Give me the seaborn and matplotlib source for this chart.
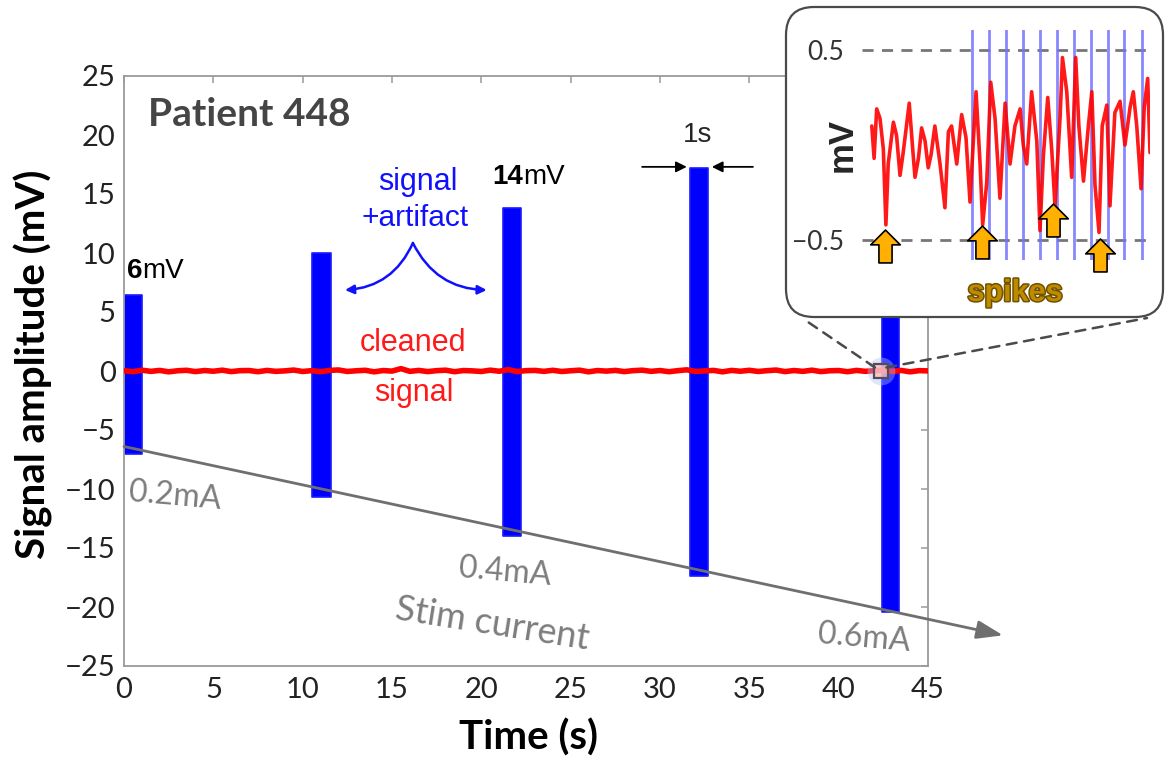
import numpy as np
import pandas as pd
import matplotlib
matplotlib.use("Agg")
import matplotlib.pyplot as plt
import seaborn as sns
from matplotlib.patches import FancyBboxPatch, ConnectionPatch
from matplotlib.path import Path
import matplotlib.patheffects as pe

# ---------------- data ----------------
burst_start = [0.0, 10.5, 21.2, 31.7, 42.4]
burst_end = [1.0, 11.6, 22.2, 32.7, 43.4]
burst_high = [6.4, 10.0, 13.8, 17.2, 20.6]
burst_low = [-7.0, -10.7, -14.0, -17.4, -20.4]

clean_step = 0.5
clean_signal = [0.03, -0.06, 0.07, -0.03, 0.05, -0.07, 0.02, 0.06, -0.05, 0.04,
                -0.02, 0.07, -0.05, 0.03, 0.04, -0.06, 0.05, -0.03, 0.01, 0.08,
                -0.04, 0.03, -0.06, 0.05, 0.09, -0.04, 0.02, 0.06, -0.07, 0.04,
                -0.01, 0.20, -0.03, 0.05, -0.05, 0.03, 0.07, -0.06, 0.04, 0.01,
                -0.04, 0.07, -0.02, 0.12, -0.05, 0.03, 0.05, -0.03, 0.06, -0.04,
                0.02, 0.07, -0.07, 0.04, -0.01, 0.05, -0.05, 0.03, 0.07, -0.03,
                0.04, -0.06, 0.03, 0.10, -0.04, 0.01, 0.05, -0.07, 0.05, -0.02,
                0.06, -0.04, 0.03, 0.08, -0.05, 0.04, -0.03, 0.07, -0.05, 0.02,
                0.04, -0.06, 0.05, -0.03, 0.03, 0.07, -0.04, 0.05, -0.07, 0.03, 0.01]

stim_t = [0.0, 49.2]
stim_level = [-6.4, -22.4]
stim_labels = ["0.2mA", "0.4mA", "0.6mA"]
zoom_t = 42.35

inset_t = [3.4, 4.2, 5.1, 6.25, 7.4, 8.3, 9.1, 10.9, 12.0, 13.2, 14.3, 16.4, 17.6,
           18.4, 19.6, 20.7, 21.9, 23.0, 24.0, 25.3, 27.1, 28.8, 30.0, 31.1, 32.9,
           34.6, 36.1, 37.5, 39.6, 41.0, 41.9, 43.3, 44.7, 46.2, 47.9, 49.7, 51.4,
           53.1, 54.9, 56.0, 57.2, 58.9, 60.7, 61.8, 63.0, 64.5, 65.9, 67.0, 68.8,
           69.6, 71.1, 72.8, 74.2, 75.3, 76.9, 78.6, 79.8, 80.9, 82.3, 83.4, 85.0,
           86.1, 87.8, 89.6, 91.3, 93.1, 94.2, 95.4, 96.9, 98.0, 99.2, 100.0]
inset_mv = [0.10, -0.07, 0.19, 0.14, -0.02, -0.42, -0.10, 0.12, 0.05, -0.16, -0.04,
            0.22, -0.02, -0.17, -0.07, 0.09, 0.02, -0.12, -0.05, 0.10, -0.10, -0.33,
            0.07, 0.10, -0.10, 0.16, 0.04, -0.30, 0.28, -0.10, -0.42, -0.20, 0.33,
            0.14, -0.28, 0.22, -0.10, 0.10, 0.19, 0.00, -0.10, 0.28, 0.02, -0.45,
            -0.05, 0.25, -0.03, -0.32, 0.15, 0.46, 0.28, -0.17, 0.46, 0.10, -0.19,
            0.10, 0.28, -0.21, -0.46, 0.10, 0.21, -0.32, 0.17, 0.23, 0.00, 0.20,
            0.28, 0.10, -0.23, 0.20, 0.35, -0.04]
stim_pulses = [38.1, 44.1, 50.0, 55.8, 61.8, 67.6, 73.6, 79.4, 85.3, 91.0, 97.1]
spike_t = [8.0, 41.6, 66.4, 82.6]
spike_mv = [-0.53, -0.51, -0.395, -0.58]

x_ticks = list(range(0, 46, 5))
y_ticks = list(range(-25, 26, 5))

# ---------------- style ----------------
sns.set_style("white")
plt.rcParams["font.family"] = ["Lato", "DejaVu Sans"]
plt.rcParams["axes.unicode_minus"] = True

W, H = 1166, 761
fig = plt.figure(figsize=(W / 100, H / 100), dpi=100)
fig.patch.set_facecolor("white")

ax = fig.add_axes([124 / W, (H - 666) / H, 804 / W, 590 / H])
ax.set_xlim(0, 45)
ax.set_ylim(-25, 25)

spine_c = "#9a9a9a"
for s in ax.spines.values():
    s.set_visible(True)
    s.set_color(spine_c)
    s.set_linewidth(1.3)
ax.set_xticks(x_ticks)
ax.set_yticks(y_ticks)
ax.tick_params(direction="in", length=5, width=1.1, color=spine_c, labelsize=21,
               labelcolor="#222222", top=True, right=True, pad=6)
ax.tick_params(axis="x", pad=8)

# blue bursts (signal + artifact)
for s, e, lo, hi in zip(burst_start, burst_end, burst_low, burst_high):
    ax.fill_between([s, e], [lo, lo], [hi, hi], color="#0000ff", lw=1.2,
                    edgecolor="#1a1aff", zorder=2)

# cleaned signal
clean_df = pd.DataFrame({"t": np.arange(len(clean_signal)) * clean_step,
                         "mv": clean_signal})
sns.lineplot(data=clean_df, x="t", y="mv", ax=ax, color="#ff0000", lw=4.0,
             estimator=None, zorder=4)

# stim current arrow
ax.annotate("", xy=(stim_t[1], stim_level[1]), xytext=(stim_t[0], stim_level[0]),
            xycoords="data", annotation_clip=False,
            arrowprops=dict(arrowstyle="-|>,head_length=0.8,head_width=0.28",
                            color="#6f6f6f", lw=2.0, mutation_scale=20,
                            shrinkA=0, shrinkB=0), zorder=5)

gray_txt = "#7d7d7d"
ax.text(0.2, -10.6, stim_labels[0], fontsize=23, color=gray_txt, rotation=-5,
        ha="left", va="center", zorder=6)
ax.text(21.3, -17.0, stim_labels[1], fontsize=23, color=gray_txt, rotation=-5,
        ha="center", va="center", zorder=6)
ax.text(41.4, -22.6, stim_labels[2], fontsize=23, color=gray_txt, rotation=-5,
        ha="center", va="center", zorder=6)
ax.text(20.6, -21.4, "Stim current", fontsize=26, color=gray_txt, rotation=-9,
        ha="center", va="center", zorder=6)

# title-like label
ax.text(1.35, 21.7, "Patient 448", fontsize=28, fontweight="bold", color="#454545",
        ha="left", va="center")

arial = ["Liberation Sans", "DejaVu Sans"]
# 6mV and 14mV
t6 = ax.text(0.15, 8.5, "6", fontsize=20, fontweight="bold", family=arial,
             ha="left", va="center", color="black")
ax.annotate("mV", xy=(1, 0), xycoords=t6, ha="left", va="bottom", fontsize=20,
            family=arial, color="black")
t14 = ax.text(20.6, 16.4, "14", fontsize=20, fontweight="bold", family=arial,
              ha="left", va="center", color="black")
ax.annotate("mV", xy=(1, 0), xycoords=t14, ha="left", va="bottom", fontsize=20,
            family=arial, color="black")

# 1s marker
ax.text(32.1, 20.0, "1s", fontsize=20, family=arial, ha="center", va="center")
ax.annotate("", xy=(31.5, 17.3), xytext=(29.0, 17.3),
            arrowprops=dict(arrowstyle="-|>", color="black", lw=1.3,
                            mutation_scale=16, shrinkA=0, shrinkB=0))
ax.annotate("", xy=(32.9, 17.3), xytext=(35.2, 17.3),
            arrowprops=dict(arrowstyle="-|>", color="black", lw=1.3,
                            mutation_scale=16, shrinkA=0, shrinkB=0))

# signal + artifact
ax.text(16.45, 16.0, "signal", fontsize=22, family=arial, color="#1010ff",
        ha="center", va="center")
ax.text(16.3, 13.0, "+artifact", fontsize=21.5, family=arial, color="#1010ff",
        ha="center", va="center")
ax.annotate("", xy=(12.37, 6.86), xytext=(16.17, 10.85),
            arrowprops=dict(arrowstyle="-|>", color="#1010ff", lw=1.8,
                            mutation_scale=13, shrinkA=0, shrinkB=0,
                            connectionstyle="arc3,rad=-0.3"))
ax.annotate("", xy=(20.3, 6.86), xytext=(16.17, 10.85),
            arrowprops=dict(arrowstyle="-|>", color="#1010ff", lw=1.8,
                            mutation_scale=13, shrinkA=0, shrinkB=0,
                            connectionstyle="arc3,rad=0.3"))

# cleaned signal text
ax.text(16.2, 2.35, "cleaned", fontsize=22, family=arial, color="#ff1a1a",
        ha="center", va="center")
ax.text(16.2, -1.9, "signal", fontsize=22, family=arial, color="#ff1a1a",
        ha="center", va="center")

# zoom square
ax.plot([zoom_t], [0], marker="o", ms=20, mfc=(0.7, 0.75, 1.0, 0.4), mec="none",
        zorder=6)
ax.plot([zoom_t], [0], marker="s", ms=10, mfc=(1.0, 0.75, 0.75, 0.8), mec="#505050",
        mew=1.6, zorder=7)

ax.set_xlabel("Time (s)", fontsize=29, fontweight="bold", color="black")
ax.set_ylabel("Signal amplitude (mV)", fontsize=29, fontweight="bold", color="black")
ax.xaxis.set_label_coords(0.5025, -0.09)
ax.yaxis.set_label_coords(-0.088, 0.512)

# ---------------- inset ----------------
box = FancyBboxPatch((7.86, 4.44), 3.77, 3.10,
                     boxstyle="round,pad=0,rounding_size=0.28",
                     transform=fig.dpi_scale_trans, fc="white", ec="#4a4a4a",
                     lw=1.6, zorder=2)
fig.add_artist(box)

for xyB, dx in [((8.05, 4.41), -0.08), ((11.47, 4.43), 0.08)]:
    cp = ConnectionPatch(xyA=(zoom_t + dx * 4, 0.3), coordsA=ax.transData,
                         xyB=xyB, coordsB=fig.dpi_scale_trans,
                         color="#4a4a4a", lw=1.8, linestyle=(0, (4, 3)), zorder=2.5)
    fig.add_artist(cp)

axi = fig.add_axes([862 / W, (H - 260) / H, 288 / W, 230 / H], zorder=3)
axi.set_facecolor("none")
axi.set_xlim(0, 100)
axi.set_ylim(-0.605, 0.605)
for s in axi.spines.values():
    s.set_visible(False)
axi.set_xticks([])
axi.set_yticks([0.5, -0.5])
axi.set_yticklabels(["0.5", "\u22120.5"])
axi.tick_params(axis="y", length=0, pad=13, labelsize=19, labelcolor="#333333")

for y0 in [0.5, -0.5]:
    axi.axhline(y0, color="#777777", lw=2.0, linestyle=(0, (4, 3)), zorder=1)
for p in stim_pulses:
    axi.axvline(p, color=(0.45, 0.45, 1.0), alpha=0.85, lw=2.0, zorder=2)

inset_df = pd.DataFrame({"t": inset_t, "mv": inset_mv})
sns.lineplot(data=inset_df, x="t", y="mv", ax=axi, color="#ff0000", lw=2.6,
             alpha=0.9, estimator=None, zorder=3)
axi.set_xlabel("")
axi.set_ylabel("")

arrow_path = Path([(0, 0.5), (0.45, 0.05), (0.2, 0.05), (0.2, -0.5), (-0.2, -0.5),
                   (-0.2, 0.05), (-0.45, 0.05), (0, 0.5)],
                  [Path.MOVETO] + [Path.LINETO] * 6 + [Path.CLOSEPOLY])
sns.scatterplot(x=spike_t, y=spike_mv, ax=axi, marker=arrow_path, s=560,
                color="#ffb000", edgecolor="black", linewidth=1.2, zorder=5,
                clip_on=False, legend=False)

axi.text(-0.07, 0.5, "mV", transform=axi.transAxes, rotation=90, fontsize=25,
         fontweight="bold", family=arial, ha="center", va="center")
axi.text(0.531, -0.143, "spikes", transform=axi.transAxes, fontsize=22,
         fontweight="bold", family=arial, color="#c08a00", ha="center", va="center",
         path_effects=[pe.withStroke(linewidth=2.2, foreground="#6e5200")])

fig.savefig("out.png", dpi=100, facecolor="white")
